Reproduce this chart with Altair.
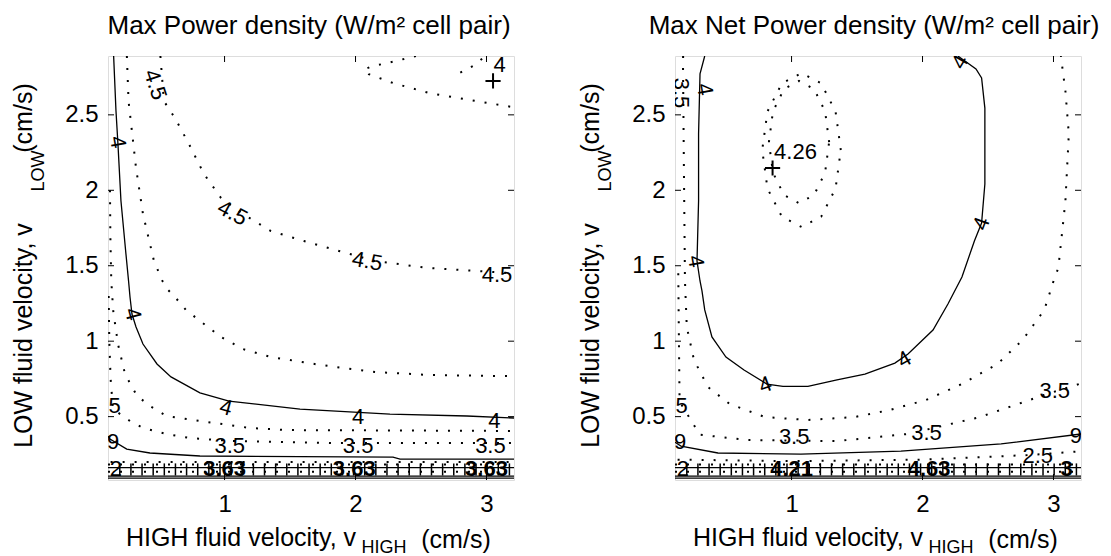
import altair as alt
import pandas as pd

# ---------------- axes ----------------
X_DOMAIN = [0.11, 3.21]
Y_DOMAIN = [0.08, 2.89]
X_TICKS = [1, 2, 3]
Y_TICKS = [0.5, 1, 1.5, 2, 2.5]

TITLE_L = "Max Power density (W/m² cell pair)"
TITLE_R = "Max Net Power density (W/m² cell pair)"
XLABEL = ["HIGH fluid velocity, v", "HIGH", "(cm/s)"]
YLABEL = ["LOW fluid velocity, v", "LOW", "(cm/s)"]

# ---------------- left panel: contour lines ----------------
L_S4_X = [0.153, 0.171, 0.186, 0.209, 0.247, 0.267, 0.278, 0.293, 0.324, 0.377, 0.484, 0.591, 0.812, 1.034, 1.576, 2.263, 2.85, 3.21]
L_S4_Y = [2.89, 2.525, 2.306, 1.929, 1.578, 1.399, 1.293, 1.18, 1.094, 0.981, 0.849, 0.763, 0.657, 0.603, 0.55, 0.517, 0.504, 0.491]
L_S3_X = [0.11, 0.125, 0.253, 0.43, 0.812, 2.286, 2.34, 3.21]
L_S3_Y = [0.37, 0.352, 0.285, 0.259, 0.239, 0.232, 0.219, 0.219]
L_SB1_X = [0.11, 3.21]
L_SB1_Y = [0.162, 0.162]
L_SB2_X = [0.11, 3.21]
L_SB2_Y = [0.106, 0.106]
L_SB3_X = [0.11, 3.21]
L_SB3_Y = [0.092, 0.092]

L_D425_X = [0.254, 0.267, 0.324, 0.377, 0.461, 0.526, 0.568, 0.621, 0.705, 0.843, 0.973, 1.14, 1.354, 1.736, 2.148, 2.56, 3.21]
L_D425_Y = [2.89, 2.59, 2.148, 1.843, 1.531, 1.399, 1.34, 1.293, 1.207, 1.114, 1.028, 0.948, 0.895, 0.842, 0.796, 0.776, 0.768]
L_D45_X = [0.51, 0.537, 0.621, 0.728, 0.843, 0.973, 1.14, 1.354, 1.606, 1.873, 2.148, 2.56, 3.21]
L_D45_Y = [2.89, 2.591, 2.479, 2.307, 2.108, 1.949, 1.843, 1.73, 1.664, 1.598, 1.531, 1.485, 1.45]
L_D475_X = [2.461, 2.3, 2.12, 2.064, 2.1, 2.286, 2.56, 2.827, 3.21]
L_D475_Y = [2.89, 2.855, 2.82, 2.8, 2.77, 2.711, 2.645, 2.605, 2.55]
L_D5_X = [2.80, 2.91, 2.99]
L_D5_Y = [2.78, 2.83, 2.89]
L_DA_X = [0.125, 0.128, 0.135, 0.15, 0.186, 0.24, 0.33, 0.43, 0.558, 0.812, 1.194, 1.47, 3.21]
L_DA_Y = [2.0, 1.7, 1.4, 1.2, 0.981, 0.782, 0.64, 0.57, 0.504, 0.471, 0.425, 0.411, 0.405]
L_DB_X = [0.115, 0.12, 0.13, 0.148, 0.278, 0.377, 0.558, 0.736, 1.064, 1.828, 3.21]
L_DB_Y = [1.3, 1.0, 0.75, 0.55, 0.471, 0.425, 0.385, 0.358, 0.338, 0.325, 0.325]
L_DC_X = [0.13, 3.21]
L_DC_Y = [0.2, 0.2]
L_DD_X = [0.11, 3.21]
L_DD_Y = [0.134, 0.134]
L_DE_X = [0.11, 3.21]
L_DE_Y = [0.183, 0.183]

L_LAB_T = ["4.5", "4.5", "4.5", "4.5", "4", "4", "4", "4", "4", "4", "3.5", "3.5", "3.5", "5", "9", "2"]
L_LAB_X = [0.47, 1.06, 2.09, 3.08, 0.185, 0.30, 1.01, 2.02, 3.06, 3.10, 1.04, 2.02, 3.03, 0.16, 0.15, 0.17]
L_LAB_Y = [2.70, 1.85, 1.53, 1.44, 2.32, 1.18, 0.56, 0.50, 0.47, 2.83, 0.305, 0.305, 0.305, 0.57, 0.33, 0.15]
L_LAB_A = [72, 28, 10, 0, 80, 75, 15, 0, 0, 0, 0, 0, 0, 0, 0, 0]
L_CLUT_T = ["3.63", "3.63", "3.63"]
L_CLUT_X = [1.0, 1.99, 3.0]
L_CLUT_Y = [0.15, 0.15, 0.15]
L_PLUS_X = [3.05]
L_PLUS_Y = [2.725]
L_HATCH_X = [0.2, 0.285, 0.37, 0.455, 0.54, 0.625, 0.71, 0.795, 0.88, 0.965, 1.05, 1.135, 1.22, 1.305,
             1.39, 1.475, 1.56, 1.645, 1.73, 1.815, 1.9, 1.985, 2.07, 2.155, 2.24, 2.325, 2.41, 2.495,
             2.58, 2.665, 2.75, 2.835, 2.92, 3.005, 3.09, 3.175]

# ---------------- right panel: contour lines ----------------
R_S4_X = [0.337, 0.301, 0.29, 0.29, 0.278, 0.301, 0.316, 0.337, 0.392, 0.499, 0.637, 0.812, 0.934, 1.125, 1.347, 1.56, 1.789, 1.889, 2.08, 2.194, 2.301, 2.396, 2.451, 2.476, 2.476, 2.451, 2.408, 2.27]
R_S4_Y = [2.89, 2.771, 2.373, 1.929, 1.531, 1.399, 1.333, 1.207, 1.028, 0.895, 0.809, 0.716, 0.70, 0.70, 0.743, 0.782, 0.855, 0.915, 1.074, 1.246, 1.425, 1.664, 1.783, 2.042, 2.545, 2.744, 2.804, 2.89]
R_S3_X = [0.11, 0.156, 0.438, 1.072, 1.835, 2.6, 3.21]
R_S3_Y = [0.33, 0.305, 0.259, 0.252, 0.272, 0.319, 0.385]
R_SB1_X = [0.11, 3.21]
R_SB1_Y = [0.162, 0.162]
R_SB2_X = [0.11, 3.21]
R_SB2_Y = [0.106, 0.106]
R_SB3_X = [0.11, 3.21]
R_SB3_Y = [0.092, 0.092]

R_EO_X = [1.376, 1.336, 1.226, 1.076, 0.926, 0.816, 0.776, 0.816, 0.926, 1.076, 1.226, 1.336, 1.376]
R_EO_Y = [2.267, 2.522, 2.709, 2.777, 2.709, 2.522, 2.267, 2.012, 1.825, 1.757, 1.825, 2.012, 2.267]
R_EI_X = [1.287, 1.256, 1.172, 1.057, 0.942, 0.858, 0.827, 0.858, 0.942, 1.057, 1.172, 1.256, 1.287]
R_EI_Y = [2.32, 2.523, 2.671, 2.725, 2.671, 2.523, 2.32, 2.117, 1.969, 1.915, 1.969, 2.117, 2.32]
R_DO_X = [0.172, 0.171, 0.178, 0.186, 0.2, 0.255, 0.362, 0.527, 0.797, 1.125, 1.481, 1.751, 2.026, 2.30, 2.573, 2.764, 2.93, 3.01, 3.037, 3.091, 3.117, 3.091, 3.064, 3.057]
R_DO_Y = [2.89, 2.837, 2.148, 1.399, 1.094, 0.875, 0.696, 0.584, 0.497, 0.478, 0.497, 0.544, 0.61, 0.716, 0.849, 1.008, 1.207, 1.425, 1.485, 1.929, 2.373, 2.658, 2.837, 2.89]
R_D2_X = [0.135, 0.14, 0.145, 0.3, 0.664, 1.346, 1.889, 2.438, 2.927, 3.21]
R_D2_Y = [1.45, 1.0, 0.6, 0.38, 0.345, 0.338, 0.385, 0.497, 0.643, 0.72]
R_D3_X = [0.13, 1.0, 2.0, 2.8, 3.21]
R_D3_Y = [0.215, 0.205, 0.215, 0.245, 0.27]
R_D4_X = [0.11, 3.21]
R_D4_Y = [0.134, 0.134]
R_D5_X = [0.11, 3.21]
R_D5_Y = [0.183, 0.183]

R_LAB_T = ["4", "4", "4", "4", "4", "4", "3.5", "4.26", "3.5", "3.5", "3.5", "5", "9", "9", "2", "2.5"]
R_LAB_X = [0.337, 0.268, 0.80, 1.86, 2.45, 2.286, 0.158, 1.03, 1.02, 2.03, 3.01, 0.16, 0.15, 3.17, 0.17, 2.88]
R_LAB_Y = [2.67, 1.53, 0.71, 0.88, 1.78, 2.85, 2.645, 2.254, 0.365, 0.39, 0.67, 0.57, 0.33, 0.37, 0.15, 0.24]
R_LAB_A = [80, 80, 340, 330, 290, 300, 90, 0, 0, 0, 0, 0, 0, 0, 0, 0]
R_CLUT_T = ["4.21", "4.63", "3"]
R_CLUT_X = [1.0, 2.05, 3.1]
R_CLUT_Y = [0.15, 0.15, 0.15]
R_PLUS_X = [0.855]
R_PLUS_Y = [2.148]
R_HATCH_X = L_HATCH_X
HATCH_Y = [0.11, 0.19]

# ---------------- building ----------------
W, H = 406, 424
FONT = "Liberation Sans"

XS = alt.Scale(domain=X_DOMAIN, nice=False, zero=False)
YS = alt.Scale(domain=Y_DOMAIN, nice=False, zero=False)
XAX = alt.Axis(values=X_TICKS, format="~g", ticks=False, domain=False, grid=False, title=None,
               labelFont=FONT, labelFontSize=24, labelColor="black", labelPadding=12,
               labelFlush=False)
YAX = alt.Axis(values=Y_TICKS, format="~g", ticks=False, domain=False, grid=False, title=None,
               labelFont=FONT, labelFontSize=24, labelColor="black", labelPadding=10,
               labelFlush=False)


def X(f):
    return alt.X(f, type="quantitative", scale=XS, axis=XAX)


def Y(f):
    return alt.Y(f, type="quantitative", scale=YS, axis=YAX)


def lines_df(lines):
    rows = []
    for name, xs, ys in lines:
        for i, (x, y) in enumerate(zip(xs, ys)):
            rows.append({"id": name, "o": i, "x": x, "y": y})
    return pd.DataFrame(rows)


def text_layer(t, x, y, size, angle=0, align="center"):
    return alt.Chart(pd.DataFrame({"t": [t]})).mark_text(
        font=FONT, fontSize=size, color="black", align=align, baseline="alphabetic", angle=angle
    ).encode(text="t:N", x=alt.value(x), y=alt.value(y))


def panel(solid, dotted, lt, lx, ly, la, ct, cx, cy, px, py, hx, title, title_x):
    sdf = lines_df(solid)
    ddf = lines_df(dotted)
    s = alt.Chart(sdf).mark_line(color="black", strokeWidth=1.3, clip=True).encode(
        x=X("x"), y=Y("y"), detail="id:N", order="o:Q")
    d = alt.Chart(ddf).mark_line(color="black", strokeWidth=2, strokeDash=[2, 10], clip=True).encode(
        x=X("x"), y=Y("y"), detail="id:N", order="o:Q")
    hdf = pd.DataFrame({"x": hx, "y1": [HATCH_Y[0]] * len(hx), "y2": [HATCH_Y[1]] * len(hx)})
    hatch = alt.Chart(hdf).mark_rule(color="black", strokeWidth=1.5, clip=True).encode(
        x=X("x"), y=Y("y1"), y2="y2:Q")
    ldf = pd.DataFrame({"t": lt, "x": lx, "y": ly, "a": la})
    labels = alt.Chart(ldf).mark_text(font=FONT, fontSize=22, color="black", clip=True,
                                      align="center", baseline="middle").encode(
        x=X("x"), y=Y("y"), text="t:N", angle=alt.Angle("a:Q", scale=None))
    cdf = pd.DataFrame({"t": ct, "x": cx, "y": cy})
    clutter = alt.Chart(cdf).mark_text(font=FONT, fontSize=22, fontWeight="bold", color="black",
                                       clip=True, align="center", baseline="middle").encode(
        x=X("x"), y=Y("y"), text="t:N")
    pdf = pd.DataFrame({"x": px, "y": py})
    plus = alt.Chart(pdf).mark_point(shape="M-1,0L1,0M0,-1L0,1", size=230, filled=False,
                                     color="black", opacity=1, strokeWidth=2, clip=True).encode(
        x=X("x"), y=Y("y"))
    txdf = pd.DataFrame({"v": X_TICKS})
    tydf = pd.DataFrame({"v": Y_TICKS})
    t_top = alt.Chart(txdf).mark_rule(color="black").encode(x=X("v"), y=alt.value(0), y2=alt.value(6))
    t_bot = alt.Chart(txdf).mark_rule(color="black").encode(x=X("v"), y=alt.value(H - 6), y2=alt.value(H))
    t_left = alt.Chart(tydf).mark_rule(color="black").encode(y=Y("v"), x=alt.value(0), x2=alt.value(6))
    t_right = alt.Chart(tydf).mark_rule(color="black").encode(y=Y("v"), x=alt.value(W - 6), x2=alt.value(W))
    layers = [s, d, hatch, labels, clutter, plus, t_top, t_bot, t_left, t_right,
              text_layer(title, title_x, -22, 26),
              text_layer(XLABEL[0], 133, H + 66, 25),
              text_layer(XLABEL[1], 276, H + 73, 18),
              text_layer(XLABEL[2], 348, H + 68, 25),
              text_layer(YLABEL[0], -76, 279.5, 25, angle=270),
              text_layer(YLABEL[1], -64, 115, 18, angle=270),
              text_layer(YLABEL[2], -76, 62, 25, angle=270)]
    return alt.layer(*layers).properties(width=W, height=H)


left = panel(
    [("s4", L_S4_X, L_S4_Y), ("s3", L_S3_X, L_S3_Y), ("b1", L_SB1_X, L_SB1_Y),
     ("b2", L_SB2_X, L_SB2_Y), ("b3", L_SB3_X, L_SB3_Y)],
    [("d425", L_D425_X, L_D425_Y), ("d45", L_D45_X, L_D45_Y), ("d475", L_D475_X, L_D475_Y),
     ("d5", L_D5_X, L_D5_Y), ("da", L_DA_X, L_DA_Y), ("db", L_DB_X, L_DB_Y),
     ("dc", L_DC_X, L_DC_Y), ("dd", L_DD_X, L_DD_Y), ("de", L_DE_X, L_DE_Y)],
    L_LAB_T, L_LAB_X, L_LAB_Y, L_LAB_A, L_CLUT_T, L_CLUT_X, L_CLUT_Y,
    L_PLUS_X, L_PLUS_Y, L_HATCH_X, TITLE_L, 201)

right = panel(
    [("s4", R_S4_X, R_S4_Y), ("s3", R_S3_X, R_S3_Y), ("b1", R_SB1_X, R_SB1_Y),
     ("b2", R_SB2_X, R_SB2_Y), ("b3", R_SB3_X, R_SB3_Y)],
    [("eo", R_EO_X, R_EO_Y), ("ei", R_EI_X, R_EI_Y), ("do", R_DO_X, R_DO_Y),
     ("d2", R_D2_X, R_D2_Y), ("d3", R_D3_X, R_D3_Y), ("d4", R_D4_X, R_D4_Y), ("d5", R_D5_X, R_D5_Y)],
    R_LAB_T, R_LAB_X, R_LAB_Y, R_LAB_A, R_CLUT_T, R_CLUT_X, R_CLUT_Y,
    R_PLUS_X, R_PLUS_Y, R_HATCH_X, TITLE_R, 199)

chart = alt.hconcat(left, right, spacing=63).properties(
    padding={"left": 3, "top": 4, "right": 2, "bottom": 0}
).configure_view(stroke="black", strokeWidth=1.2).configure(background="white")

chart.save("out.html", embed_options={"renderer": "svg", "actions": False})
